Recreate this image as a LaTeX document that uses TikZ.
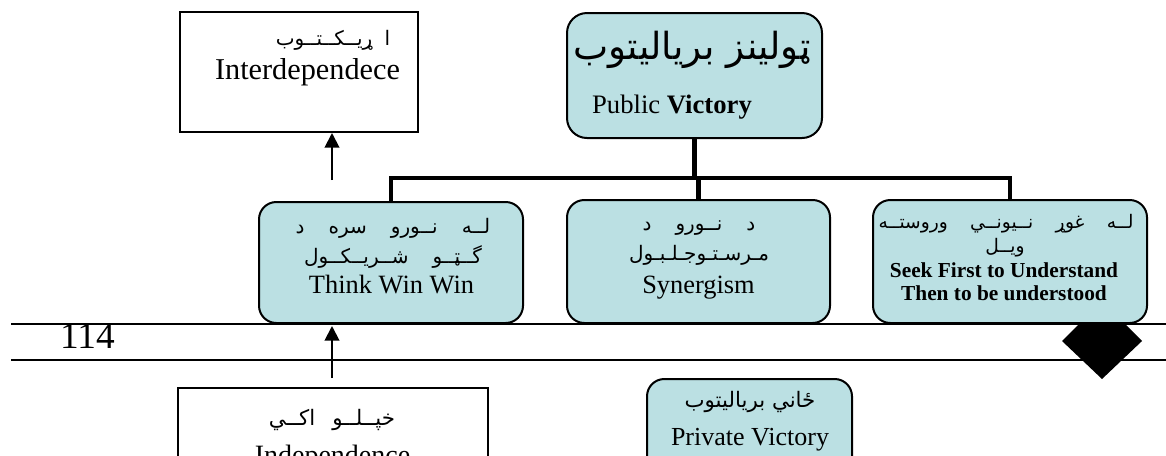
\documentclass[tikz,border=0pt]{standalone}
\usepackage{fontspec}
\setmainfont{Liberation Serif}
\newfontfamily\ar[Script=Arabic]{DejaVu Sans}
\TeXXeTstate=1
\usetikzlibrary{arrows.meta}
\definecolor{boxfill}{RGB}{187,224,227}
\newcommand{\ws}{\hspace{1.2em}}
\begin{document}
\begin{tikzpicture}[x=0.75pt,y=-0.75pt,
  plainbox/.style={draw, line width=1.5pt, fill=white, inner sep=0pt},
  roundbox/.style={draw, line width=1.5pt, fill=boxfill, inner sep=0pt, rounded corners=13pt},
  txt/.style={inner sep=0pt, align=center},
  conn/.style={line width=3.5pt},
  arr/.style={line width=1.5pt, -{Triangle[length=11pt,width=11pt]}},
  rulel/.style={line width=1.2pt}]
\useasboundingbox (0,0) rectangle (1166,455);
\clip (0,0) rectangle (1166,455);
\fill[white] (0,0) rectangle (1166,455);
% page rules
\coordinate (r1a) at (11,324); \coordinate (r1b) at (1166,324);
\coordinate (r2a) at (11,360); \coordinate (r2b) at (1166,360);
\draw[rulel] (r1a) -- (r1b);
\draw[rulel] (r2a) -- (r2b);
\fill (1062,341) -- (1079,324) -- (1125,324) -- (1142,341) -- (1102,379) -- cycle;
\node[txt, anchor=base, font=\fontsize{28}{30}\selectfont] (pg) at (87.5,348) {114};
% boxes
\node[plainbox, minimum width=178.5pt, minimum height=90pt] (il) at (299,72) {};
\node[roundbox, rounded corners=15pt, minimum width=191.25pt, minimum height=93.75pt] (pub) at (694.5,75.5) {};
\node[roundbox, minimum width=198pt, minimum height=90.75pt] (think) at (391,262.5) {};
\node[roundbox, minimum width=197.25pt, minimum height=92.25pt] (syn) at (698.5,261.5) {};
\node[roundbox, minimum width=205.5pt, minimum height=92.25pt] (seek) at (1010,261.5) {};
\node[plainbox, minimum width=232.5pt, minimum height=84pt] (ind) at (333,444) {};
\node[roundbox, minimum width=153.75pt, minimum height=90.75pt] (priv) at (749.5,439.5) {};
% connectors
\coordinate (bar) at (0,178);
\draw[conn] (pub.south) -- (pub.south |- bar);
\draw[conn] (think.north) -- (think.north |- bar) -- (seek.north |- bar) -- (seek.north);
\draw[conn] (syn.north) -- (syn.north |- bar);
\coordinate (a1) at (332,180);
\draw[arr] (a1) -- (a1 |- il.south);
\coordinate (a2) at (332,378);
\draw[arr] (a2) -- (332,326);
% texts
\node[txt, font=\ar\fontsize{15}{18}\selectfont] (ilA) at (333,40) {\beginR ا\hspace{0.6em}ړيــکــتــوب\endR};
\node[txt, anchor=base, font=\fontsize{22.7}{26}\selectfont] (ilE) at (307.5,79) {Interdependece};
\node[txt, font=\ar\fontsize{28}{32}\selectfont] (pubA) at (692,50) {\beginR ټولينز برياليتوب\endR};
\node[txt, anchor=base, font=\fontsize{20}{24}\selectfont] (pubE) at (672,113) {Public \textbf{Victory}};
\node[txt, font=\ar\fontsize{15}{18}\selectfont] (thA1) at (393,228) {\beginR لــه\ws نــورو\ws سره\ws د\endR};
\node[txt, font=\ar\fontsize{15}{18}\selectfont] (thA2) at (393,257) {\beginR گــټــو\ws شــريــکــول\endR};
\node[txt, anchor=base, font=\fontsize{19.8}{24}\selectfont] (thE) at (391.5,293) {Think Win Win};
\node[txt, font=\ar\fontsize{15}{18}\selectfont] (syA1) at (699,228) {\beginR د\ws نــورو\ws د\endR};
\node[txt, font=\ar\fontsize{15}{18}\selectfont] (syA2) at (699,255) {\beginR مـرسـتـوجـلـبـول\endR};
\node[txt, anchor=base, font=\fontsize{19.8}{24}\selectfont] (syE) at (698.5,293) {Synergism};
\node[txt, font=\ar\fontsize{14}{16}\selectfont] (skA1) at (1006,224) {\beginR لــه\ws غوړ\ws نــيونــي\ws وروستــه\endR};
\node[txt, font=\ar\fontsize{14}{16}\selectfont] (skA2) at (1005,248) {\beginR ويــل\endR};
\node[txt, anchor=base, font=\bfseries\fontsize{16}{19}\selectfont] (skE1) at (1004,277) {Seek First to Understand};
\node[txt, anchor=base, font=\bfseries\fontsize{16}{19}\selectfont] (skE2) at (1004,300) {Then to be understood};
\node[txt, font=\ar\fontsize{16}{19}\selectfont] (inA) at (332,420) {\beginR خپــلــو\hspace{0.8em}اکــي\endR};
\node[txt, anchor=base, font=\fontsize{21}{24}\selectfont] (inE) at (332.5,464) {Independence};
\node[txt, font=\ar\fontsize{16}{19}\selectfont] (pvA) at (750,402) {\beginR ځاني برياليتوب\endR};
\node[txt, anchor=base, font=\fontsize{19.5}{23}\selectfont] (pvE) at (750,445) {Private Victory};
\end{tikzpicture}
\end{document}
